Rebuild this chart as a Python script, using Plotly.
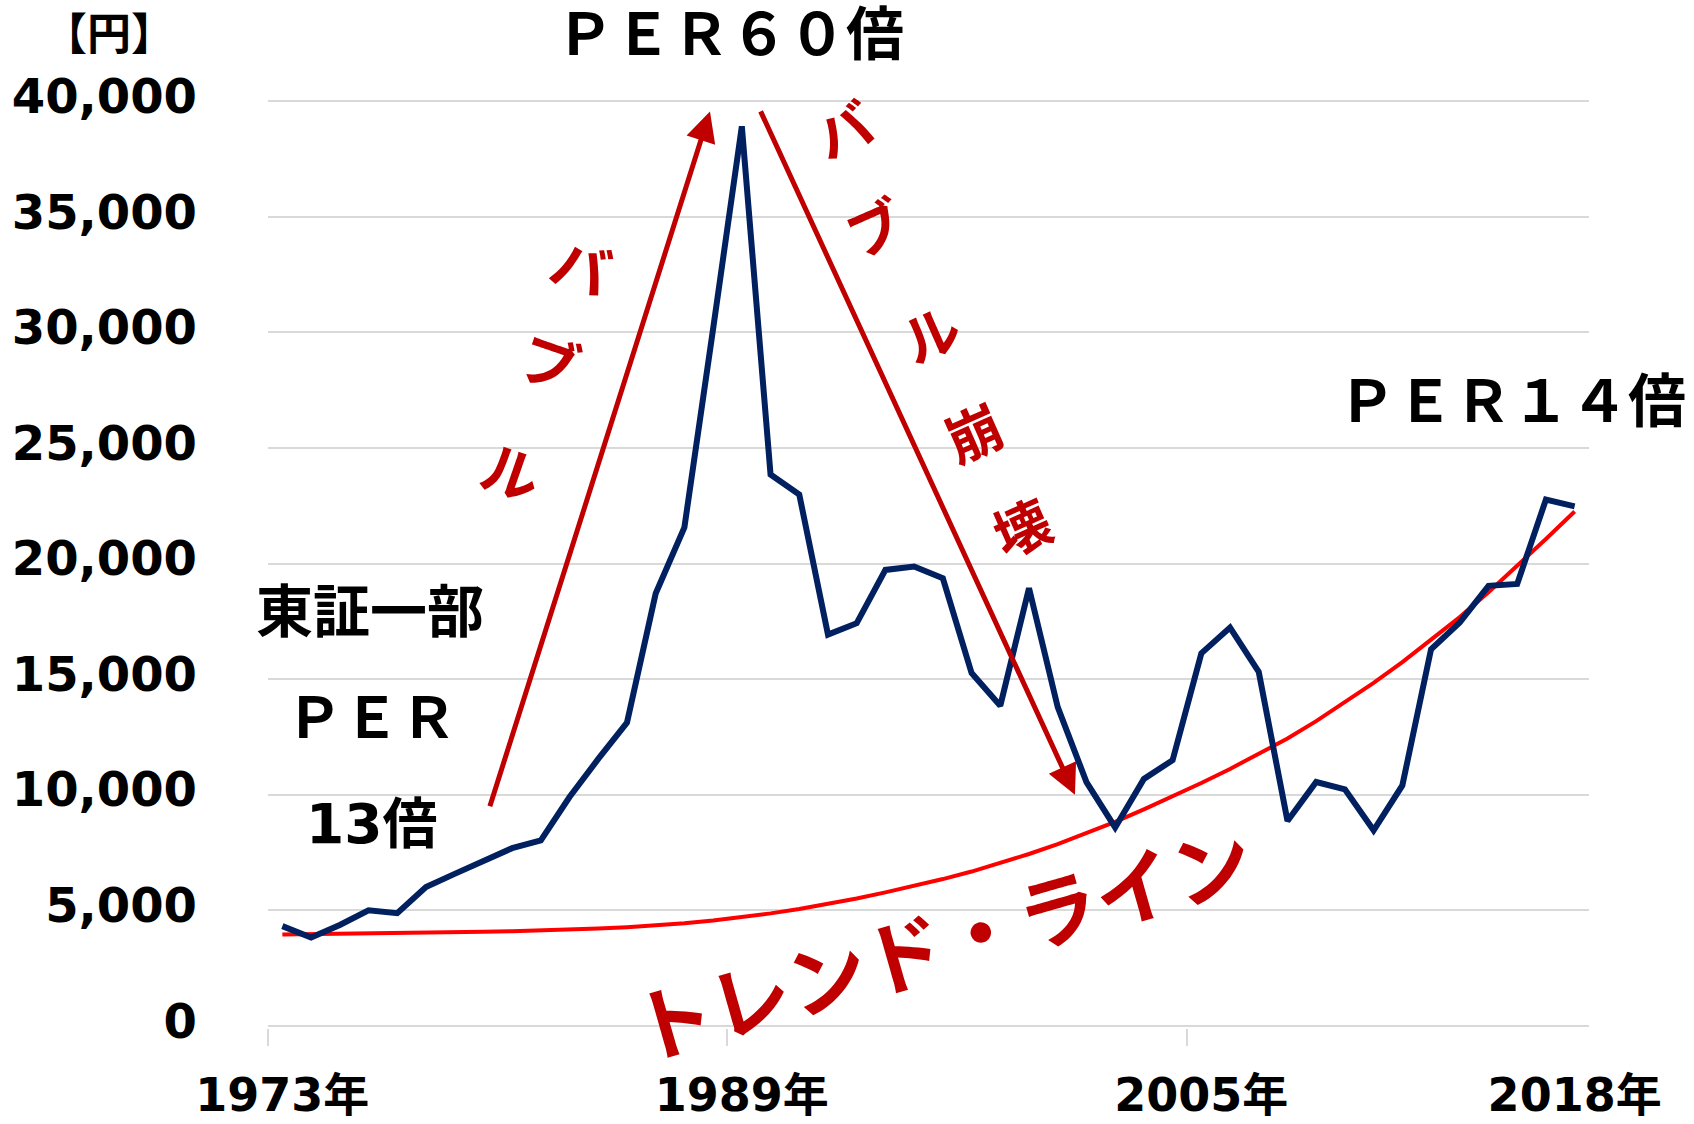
import plotly.graph_objects as go

# ---------------- data ----------------
years = list(range(1973, 2019))
index_values = [
    4307, 3817, 4359, 4991, 4866, 6002, 6569, 7116, 7682, 8017,
    9894, 11543, 13113, 18701, 21564, 30159, 38916, 23849, 22984, 16925,
    17417, 19723, 19868, 19361, 15259, 13842, 18934, 13786, 10543, 8579,
    10677, 11489, 16111, 17226, 15308, 8860, 10546, 10229, 8455, 10395,
    16291, 17451, 19034, 19114, 22765, 22470,
]
trend_values = [
    3950, 3960, 3970, 3985, 4000, 4020, 4040, 4060, 4085, 4115,
    4155, 4205, 4265, 4340, 4430, 4550, 4690, 4860, 5050, 5265,
    5505, 5770, 6050, 6345, 6670, 7030, 7430, 7860, 8320, 8820,
    9360, 9920, 10500, 11110, 11750, 12430, 13180, 13980, 14830, 15730,
    16680, 17680, 18760, 19900, 21060, 22250,
]
x_label_years = [1973, 1989, 2005, 2018]
x_label_text = ["1973年", "1989年", "2005年", "2018年"]
x_boundary_ticks = [1972.5, 1988.5, 2004.5]
y_tick_values = [0, 5000, 10000, 15000, 20000, 25000, 30000, 35000, 40000]

# ---------------- styles ----------------
NAVY = "#002060"
DARKRED = "#C00000"
RED = "#FF0000"
GRID = "#d9d9d9"
FONT = "DejaVu Sans, Noto Sans CJK JP, sans-serif"
CJK = "Noto Sans CJK JP, sans-serif"

fig = go.Figure()
fig.add_trace(go.Scatter(x=years, y=trend_values, mode="lines",
                         line=dict(color=RED, width=4), hoverinfo="skip"))
fig.add_trace(go.Scatter(x=years, y=index_values, mode="lines",
                         line=dict(color=NAVY, width=6)))

# labels above the plot area (paper coordinates)
top_labels = [
    ("【円】", -0.1204, 1.0691, 44),
    ("ＰＥＲ６０倍", 0.3497, 1.0691, 58),
]
for txt, xx, yy, sz in top_labels:
    fig.add_annotation(x=xx, y=yy, xref="paper", yref="paper", text=txt,
                       showarrow=False, xanchor="center", yanchor="middle",
                       font=dict(family=FONT, size=sz, color="black", weight="bold"))

# black labels inside the plot (text, x-year, y-value, size)
black_labels = [
    ("ＰＥＲ１４倍", 2015.82, 26997, 58),
    ("東証一部", 1976.05, 17912, 57),
    ("ＰＥＲ", 1976.09, 13326, 57),
    ("13倍", 1976.12, 8740, 55),
]
for txt, xx, yy, sz in black_labels:
    fig.add_annotation(x=xx, y=yy, xref="x", yref="y", text=txt, showarrow=False,
                       xanchor="center", yanchor="middle",
                       font=dict(family=FONT, size=sz, color="black", weight="bold"))

# rotated red characters (char, x-year, y-value, angle, size)
red_chars = [
    ("バ", 1983.43, 32925, 19, 58),
    ("ブ", 1982.35, 28814, 19, 58),
    ("ル", 1981.00, 24055, 19, 58),
    ("バ", 1992.52, 38852, -24, 56),
    ("ブ", 1993.60, 34612, -24, 56),
    ("ル", 1995.55, 30026, -24, 56),
    ("崩", 1997.05, 25743, -24, 56),
    ("壊", 1998.72, 21633, -24, 56),
    ("トレンド・ライン", 1995.94, 3764, -16, 80),
]
for ch, xx, yy, ang, sz in red_chars:
    fig.add_annotation(x=xx, y=yy, xref="x", yref="y", text=ch, showarrow=False,
                       textangle=ang, xanchor="center", yanchor="middle",
                       font=dict(family=CJK, size=sz, color=DARKRED, weight="bold"))

# arrows (tail -> tip)
arrows = [
    ((1980.21, 9432), (1987.89, 39557)),
    ((1989.63, 39631), (2000.60, 9994)),
]
for (tx, ty), (hx, hy) in arrows:
    fig.add_annotation(x=hx, y=hy, ax=tx, ay=ty, xref="x", yref="y",
                       axref="x", ayref="y", text="", showarrow=True,
                       arrowhead=2, arrowsize=1.2, arrowwidth=5,
                       arrowcolor=DARKRED, standoff=0, startstandoff=0)

fig.update_layout(
    width=1694, height=1124,
    margin=dict(l=268, r=105, t=99.2, b=95.7),
    plot_bgcolor="white", paper_bgcolor="white",
    showlegend=False,
    xaxis=dict(
        range=[1972.5, 2018.5], automargin=False,
        tickmode="array", tickvals=x_label_years, ticktext=x_label_text,
        ticks="", showgrid=False, zeroline=False, showline=False,
        tickfont=dict(family=FONT, size=46, color="black", weight="bold"),
        ticklabelstandoff=36,
        minor=dict(tickmode="array", tickvals=x_boundary_ticks, ticks="outside",
                   ticklen=17, tickwidth=2, tickcolor=GRID, showgrid=False),
    ),
    yaxis=dict(
        range=[-100, 40100], automargin=False,
        tickmode="array", tickvals=y_tick_values, tickformat=",",
        showgrid=True, gridcolor=GRID, gridwidth=2,
        zeroline=False, showline=False, ticks="",
        tickfont=dict(family=FONT, size=48, color="black", weight="bold"),
        ticklabelstandoff=70, ticklabelshift=-5,
    ),
)

fig.write_html(
    "out.html",
    config={"displayModeBar": False},
    post_script="document.body.style.margin='0';document.body.style.overflow='hidden';",
)
